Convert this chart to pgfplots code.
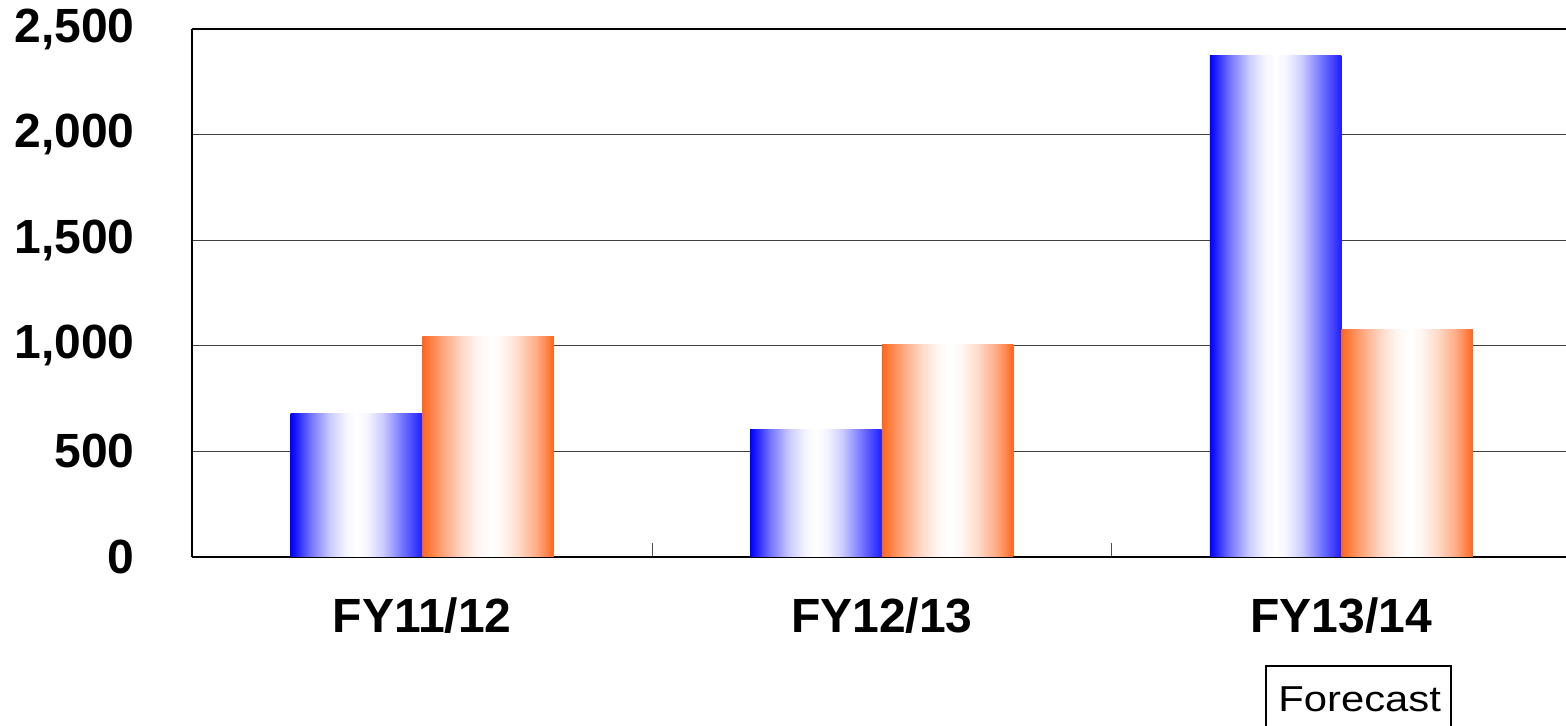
\documentclass[border=0pt]{standalone}
\usepackage{pgfplots}
\pgfplotsset{compat=1.18}
\usepackage{fontspec}
\setmainfont{Liberation Sans}
\definecolor{barblue}{RGB}{0,0,255}
\definecolor{barblueR}{RGB}{30,30,255}
\definecolor{barorange}{RGB}{255,102,30}
% stops are mapped into the central 25bp--75bp band that TikZ fits to the bar
\pgfdeclarehorizontalshading{blueshading}{100bp}{%
  color(0bp)=(barblue); color(25bp)=(barblue); color(26.5bp)=(barblue!92!white);
  color(32.5bp)=(barblue!55!white); color(40bp)=(barblue!20!white);
  color(46bp)=(barblue!4!white); color(50bp)=(white);
  color(54bp)=(barblue!4!white); color(60bp)=(barblue!20!white);
  color(67.5bp)=(barblue!55!white); color(75bp)=(barblueR); color(100bp)=(barblueR)}
\pgfdeclarehorizontalshading{orangeshading}{100bp}{%
  color(0bp)=(barorange); color(25bp)=(barorange); color(26.5bp)=(barorange!92!white);
  color(32.5bp)=(barorange!60!white); color(40bp)=(barorange!25!white);
  color(46bp)=(barorange!6!white); color(51bp)=(white);
  color(55bp)=(barorange!5!white); color(61bp)=(barorange!22!white);
  color(68.5bp)=(barorange!55!white); color(75bp)=(barorange); color(100bp)=(barorange)}
\begin{document}
\begin{tikzpicture}
\begin{axis}[
  scale only axis,
  width=686.75pt, height=264pt,
  xmin=-0.5, xmax=2.489,
  ymin=0, ymax=2500,
  axis x line*=box, axis y line*=left,
  axis line style={line width=1pt, black},
  ytick={0,500,1000,1500,2000,2500},
  xtick={0,1,2},
  xticklabels={FY11/12,FY12/13,FY13/14},
  minor xtick={0.5,1.5},
  tick pos=left,
  tick align=inside,
  major tick style={draw=none},
  minor tick length=7pt,
  minor x tick style={draw=black!70, line width=0.5pt},
  ymajorgrids,
  major grid style={line width=0.6pt, black!75},
  /pgf/number format/assume math mode=true,
  /pgf/number format/1000 sep={,},
  ticklabel style={font=\bfseries\fontsize{24}{28}\selectfont},
  yticklabel style={anchor=east, inner sep=0pt, xshift=-28.75pt},
  xticklabel style={anchor=north, inner sep=0pt, yshift=-20pt},
  blueshade/.style={ybar, bar width=65.75pt, bar shift=-32.9pt, draw=none,
    shade, shading=blueshading},
  orangeshade/.style={ybar, bar width=65.75pt, bar shift=32.9pt, draw=none,
    shade, shading=orangeshading},
]
% Series 1 (blue)
\addplot[blueshade] coordinates {(0,680)};
\addplot[blueshade] coordinates {(1,603)};
\addplot[blueshade] coordinates {(2,2375)};
% Series 2 (orange)
\addplot[orangeshade] coordinates {(0,1045)};
\addplot[orangeshade] coordinates {(1,1004)};
\addplot[orangeshade] coordinates {(2,1077)};
\end{axis}
\draw[line width=0.6pt] (536.75pt,-91.5pt) -- (536.75pt,-54.5pt) -- (629.25pt,-54.5pt) -- (629.25pt,-91.5pt);
\node[anchor=base west, inner sep=0pt, font=\fontsize{18}{22}\selectfont] at (542.75pt,-77.5pt) {\scalebox{1.16}[1]{Forecast}};
\pgfresetboundingbox
\path[use as bounding box] (-96.25pt,-84.5pt) rectangle (686.75pt,278.5pt);
\end{tikzpicture}
\end{document}
